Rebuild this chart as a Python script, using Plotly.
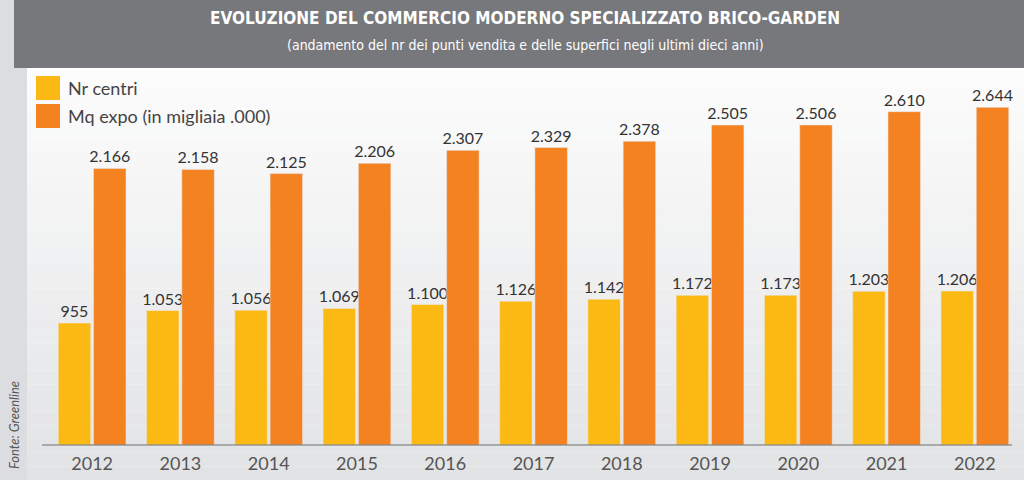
import plotly.graph_objects as go

years = ["2012", "2013", "2014", "2015", "2016", "2017", "2018", "2019", "2020", "2021", "2022"]
nr_centri = [955, 1053, 1056, 1069, 1100, 1126, 1142, 1172, 1173, 1203, 1206]
mq_expo = [2166, 2158, 2125, 2206, 2307, 2329, 2378, 2505, 2506, 2610, 2644]

def fmt(v):
    return f"{v:,}".replace(",", ".")

W, H = 1024, 480
ML, MR, MT, MB = 48, 5, 80, 35
PW, PH = W - ML - MR, H - MT - MB
FONT = "Lato"
YELLOW = "#fdb913"
ORANGE = "#f58220"

fig = go.Figure()
fig.add_trace(go.Bar(x=years, y=nr_centri, name="Nr centri", marker_color=YELLOW,
                     text=[fmt(v) for v in nr_centri], textposition="outside", constraintext="none",
                     textfont=dict(size=16, color="#333333", family=FONT), cliponaxis=False))
fig.add_trace(go.Bar(x=years, y=mq_expo, name="Mq expo (in migliaia .000)", marker_color=ORANGE,
                     text=[fmt(v) for v in mq_expo], textposition="outside", constraintext="none",
                     textfont=dict(size=16, color="#333333", family=FONT), cliponaxis=False))

def px(x):
    return (x - ML) / PW

def py(y):
    return (H - MB - y) / PH

shapes = []
# chart background gradient
n = 30
top, bot = 70, 480
c0 = (252, 252, 252)
c1 = (226, 227, 229)
for i in range(n):
    y0 = top + (bot - top) * i / n
    y1 = top + (bot - top) * (i + 1) / n
    t = i / (n - 1)
    c = tuple(round(c0[k] + (c1[k] - c0[k]) * t) for k in range(3))
    shapes.append(dict(type="rect", xref="paper", yref="paper", x0=px(27), x1=px(W), y0=py(y1), y1=py(y0),
                       fillcolor="rgb(%d,%d,%d)" % c, line_width=0, layer="below"))
# left strip
shapes.append(dict(type="rect", xref="paper", yref="paper", x0=px(0), x1=px(27), y0=py(H), y1=py(0),
                   fillcolor="#dcdde0", line_width=0, layer="below"))
# title banner
shapes.append(dict(type="rect", xref="paper", yref="paper", x0=px(14), x1=px(W), y0=py(68), y1=py(0),
                   fillcolor="#77787b", line_width=0, layer="below"))
# axis line
shapes.append(dict(type="line", xref="paper", yref="paper", x0=px(42), x1=px(1012), y0=py(445), y1=py(445),
                   line=dict(color="#6d6e71", width=1.2)))
# legend squares
shapes.append(dict(type="rect", xref="paper", yref="paper", x0=px(36), x1=px(60), y0=py(100), y1=py(76),
                   fillcolor=YELLOW, line_width=0))
shapes.append(dict(type="rect", xref="paper", yref="paper", x0=px(36), x1=px(60), y0=py(128), y1=py(104),
                   fillcolor=ORANGE, line_width=0))

annotations = [
    dict(text="<b>EVOLUZIONE DEL COMMERCIO MODERNO SPECIALIZZATO BRICO-GARDEN</b>", xref="paper", yref="paper",
         x=px(525), y=py(18), showarrow=False, xanchor="center", yanchor="middle",
         font=dict(family="DejaVu Sans Condensed", size=17, color="white")),
    dict(text="(andamento del nr dei punti vendita e delle superfici negli ultimi dieci anni)", xref="paper", yref="paper",
         x=px(525), y=py(45), showarrow=False, xanchor="center", yanchor="middle",
         font=dict(family="DejaVu Sans Condensed", size=14, color="white")),
    dict(text="Nr centri", xref="paper", yref="paper", x=px(66), y=py(88), showarrow=False,
         xanchor="left", yanchor="middle", font=dict(family=FONT, size=18, color="#444444")),
    dict(text="Mq expo (in migliaia .000)", xref="paper", yref="paper", x=px(66), y=py(116), showarrow=False,
         xanchor="left", yanchor="middle", font=dict(family=FONT, size=18, color="#444444")),
    dict(text="<i>Fonte: Greenline</i>", xref="paper", yref="paper", x=px(14), y=py(425), showarrow=False,
         textangle=-90, xanchor="center", yanchor="middle", font=dict(family=FONT, size=13, color="#555555")),
]

fig.update_layout(
    width=W, height=H,
    margin=dict(l=ML, r=MR, t=MT, b=MB),
    paper_bgcolor="white", plot_bgcolor="rgba(0,0,0,0)",
    barmode="group", bargap=0.2, bargroupgap=0.08,
    showlegend=False,
    shapes=shapes, annotations=annotations,
    xaxis=dict(showgrid=False, showline=False, ticks="", zeroline=False, ticklabelstandoff=6,
               tickfont=dict(family=FONT, size=18, color="#555555")),
    yaxis=dict(range=[0, 2858], visible=False, showgrid=False),
    font=dict(family=FONT),
)

fig.write_html("out.html", config={"displayModeBar": False},
               post_script="document.body.style.margin='0';")
